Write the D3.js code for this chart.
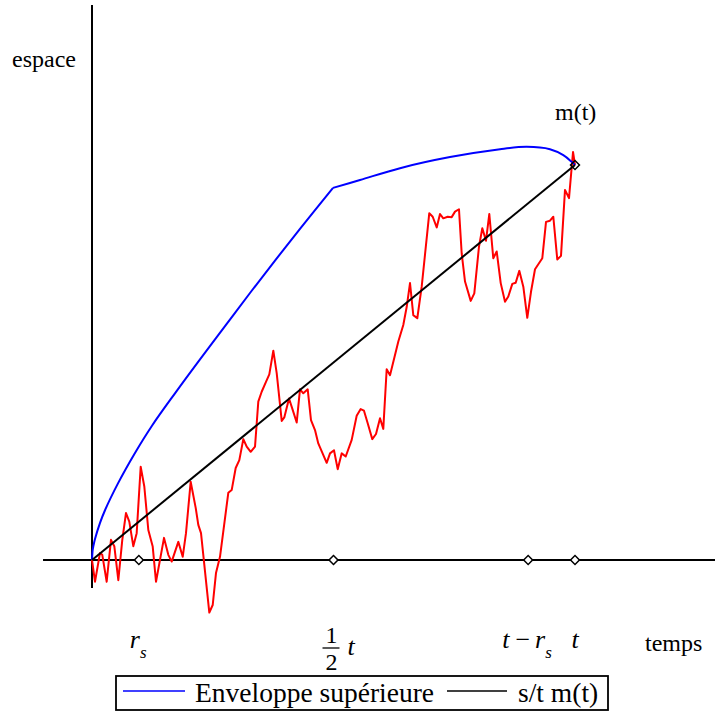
<!DOCTYPE html>
<html>
<head>
<meta charset="utf-8">
<script src="https://cdn.jsdelivr.net/npm/d3@7"></script>
<style>
  html, body { margin: 0; padding: 0; background: #fff; }
  svg { display: block; }
  text { font-family: "Liberation Serif", "Times New Roman", serif; fill: #000; }
</style>
</head>
<body>
<svg id="chart" width="715" height="713"></svg>
<script>
// Time runs from 0 to t = 100, space is in units where m(t) = 10.
const T = 100;
const mT = 10;
const rS = 9.7;

// Random walk path (time, position)
const walkTime = [0, 0.62, 1.66, 2.13, 3.04, 3.93, 4.62, 5.45, 6.27, 7.04, 7.72, 8.55, 9.25, 10.08, 10.83,
  11.66, 12.57, 13.25, 14.91, 15.8, 16.5, 17.87, 18.78, 19.46, 20.43, 21.47, 22.01, 22.57, 24.29, 24.99,
  25.67, 26.5, 28.22, 28.92, 29.75, 30.5, 31.33, 32.03, 32.86, 33.75, 34.43, 35.13, 36.02, 36.71, 37.54,
  38.24, 39.28, 39.81, 40.79, 41.55, 42.38, 43.06, 43.75, 44.66, 45.34, 46.17, 46.85, 48.59, 49.28, 50.1,
  50.87, 51.7, 52.53, 53.77, 54.8, 55.63, 56.31, 57.08, 58.03, 58.8, 59.63, 60.31, 61.01, 61.7, 63.42,
  64.45, 65.16, 65.84, 66.52, 67.35, 68.26, 69.83, 70.54, 71.37, 72.05, 72.73, 73.64, 74.47, 75.16, 75.98,
  76.54, 77.23, 78.41, 79.15, 80.12, 80.81, 81.57, 82.26, 83.08, 83.79, 84.62, 85.51, 86.19, 87.02, 87.72,
  88.47, 89.3, 90.12, 90.89, 91.72, 93.23, 94.0, 94.82, 95.51, 96.33, 97.1, 97.93, 98.76, 99.59, 100];
const walkValue = [0, -0.55, 0.18, 0.13, -0.55, 0.51, 0.35, -0.51, 0.51, 1.19, 0.97, 0.35, 0.68, 2.36, 1.86,
  0.76, 0.34, -0.55, 0.56, 0.13, -0.04, 0.46, 0.08, 0.68, 1.98, 1.32, 0.89, 0.68, -1.33, -1.14,
  -0.33, 0.08, 1.70, 1.77, 2.33, 2.53, 3.06, 2.87, 2.74, 2.87, 4.01, 4.26, 4.51, 4.70, 5.30,
  4.73, 3.52, 3.61, 4.09, 3.80, 3.48, 4.32, 4.22, 4.32, 3.54, 3.29, 2.95, 2.46, 2.70, 2.78,
  2.30, 2.70, 2.62, 3.04, 3.65, 3.82, 3.78, 3.46, 3.06, 3.19, 3.59, 3.32, 4.83, 4.68, 5.53,
  5.95, 6.41, 7.01, 6.20, 6.12, 6.92, 8.78, 8.69, 8.42, 8.76, 8.65, 8.69, 8.68, 8.82, 8.88,
  7.76, 7.05, 6.56, 6.75, 7.93, 8.40, 8.08, 8.76, 7.64, 7.81, 7.01, 6.54, 6.67, 6.99, 7.02,
  7.32, 6.92, 6.13, 6.79, 7.36, 7.64, 8.56, 8.59, 8.69, 7.61, 7.70, 9.37, 9.16, 10.33, 10];

// Upper envelope, first part (0 .. t/2)
const envTime1 = [0, 0.15, 0.3, 0.62, 1.66, 2.69, 5.38, 8.9, 12.42, 17.18, 22.36, 27.54, 32.71, 37.89, 43.06, 49.9];
const envValue1 = [0, 0.26, 0.36, 0.53, 0.94, 1.26, 1.94, 2.71, 3.40, 4.22, 5.08, 5.92, 6.76, 7.58, 8.38, 9.42];
// Upper envelope, second part (t/2 .. t)
const envTime2 = [49.9, 55.49, 63.77, 74.12, 84.47, 90.0, 94.82, 97.58, 99.32, 100];
const envValue2 = [9.42, 9.62, 9.92, 10.2, 10.4, 10.46, 10.4, 10.25, 10.08, 10];

// Marked instants on the time axis
const tickTimes = [rS, T / 2, T - rS, T];

const svg = d3.select("#chart");
const x = d3.scaleLinear().domain([0, T]).range([92, 575]);
const y = d3.scaleLinear().domain([0, mT]).range([560, 165]);

// Axes
const xAxisSpan = [-10.14, 128.99];
const yAxisSpan = [-0.71, 14.05];
svg.append("line")
  .attr("x1", x(xAxisSpan[0])).attr("x2", x(xAxisSpan[1]))
  .attr("y1", y(0)).attr("y2", y(0))
  .attr("stroke", "#000").attr("stroke-width", 2);
svg.append("line")
  .attr("x1", x(0)).attr("x2", x(0))
  .attr("y1", y(yAxisSpan[0])).attr("y2", y(yAxisSpan[1]))
  .attr("stroke", "#000").attr("stroke-width", 2);

const line = d3.line().x(d => x(d[0])).y(d => y(d[1]));
const smooth = d3.line().x(d => x(d[0])).y(d => y(d[1])).curve(d3.curveCatmullRom.alpha(0.5));

// Random walk
svg.append("path")
  .datum(d3.zip(walkTime, walkValue))
  .attr("d", line)
  .attr("fill", "none").attr("stroke", "#ff0000").attr("stroke-width", 2)
  .attr("stroke-linejoin", "round");

// Envelope
[[envTime1, envValue1], [envTime2, envValue2]].forEach(([ts, vs]) => {
  svg.append("path")
    .datum(d3.zip(ts, vs))
    .attr("d", smooth)
    .attr("fill", "none").attr("stroke", "#0000ff").attr("stroke-width", 2);
});

// Chord s/t m(t)
svg.append("path")
  .datum([[0, 0], [T, mT]])
  .attr("d", line)
  .attr("fill", "none").attr("stroke", "#000").attr("stroke-width", 2);

// Diamond markers
const diamond = d3.symbol().type(d3.symbolSquare).size(40);
svg.selectAll(".tick-mark")
  .data(tickTimes)
  .join("path")
  .attr("class", "tick-mark")
  .attr("d", diamond)
  .attr("transform", d => `translate(${x(d)},${y(0)}) rotate(45)`)
  .attr("fill", "#fff").attr("stroke", "#000").attr("stroke-width", 1.5);
svg.append("path")
  .attr("d", diamond)
  .attr("transform", `translate(${x(T)},${y(mT)}) rotate(45)`)
  .attr("fill", "none").attr("stroke", "#000").attr("stroke-width", 1.5);

// Axis titles
svg.append("text").attr("x", 12).attr("y", 67).attr("font-size", 24).text("espace");
svg.append("text").attr("x", 645).attr("y", 651).attr("font-size", 24).text("temps");
svg.append("text").attr("x", x(T) - 20).attr("y", 120).attr("font-size", 24).text("m(t)");

// Tick labels
const fs = 26, sub = 17;
// r_s
const l1 = svg.append("text").attr("x", x(rS) - 9).attr("y", 648).attr("font-size", fs).attr("font-style", "italic");
l1.append("tspan").text("r");
l1.append("tspan").attr("font-size", sub).attr("dy", 10).text("s");
// 1/2 t
const gx = x(T / 2);
svg.append("text").attr("x", gx - 2).attr("y", 643).attr("font-size", 24).attr("text-anchor", "middle").text("1");
svg.append("line").attr("x1", gx - 11).attr("x2", gx + 6).attr("y1", 648).attr("y2", 648)
  .attr("stroke", "#000").attr("stroke-width", 1.3);
svg.append("text").attr("x", gx - 2).attr("y", 670).attr("font-size", 24).attr("text-anchor", "middle").text("2");
svg.append("text").attr("x", gx + 14).attr("y", 655).attr("font-size", fs).attr("font-style", "italic").text("t");
// t - r_s
const l3 = svg.append("text").attr("x", x(T - rS) - 26).attr("y", 648).attr("font-size", fs).attr("font-style", "italic");
l3.append("tspan").text("t");
l3.append("tspan").attr("font-style", "normal").attr("dx", 6).text("\u2212");
l3.append("tspan").attr("dx", 5).text("r");
l3.append("tspan").attr("font-size", sub).attr("dy", 10).text("s");
// t
svg.append("text").attr("x", x(T)).attr("y", 648).attr("font-size", fs).attr("font-style", "italic")
  .attr("text-anchor", "middle").text("t");

// Legend
const legend = svg.append("g");
legend.append("rect").attr("x", 116).attr("y", 676).attr("width", 492).attr("height", 34)
  .attr("fill", "#fff").attr("stroke", "#000").attr("stroke-width", 1.8);
legend.append("line").attr("x1", 123).attr("x2", 185).attr("y1", 691).attr("y2", 691)
  .attr("stroke", "#0000ff").attr("stroke-width", 1.5);
legend.append("text").attr("x", 195).attr("y", 702).attr("font-size", 27.5).text("Enveloppe supérieure");
legend.append("line").attr("x1", 447).attr("x2", 507).attr("y1", 691).attr("y2", 691)
  .attr("stroke", "#000").attr("stroke-width", 1.5);
legend.append("text").attr("x", 518).attr("y", 702).attr("font-size", 27.5).text("s/t m(t)");
</script>
</body>
</html>
